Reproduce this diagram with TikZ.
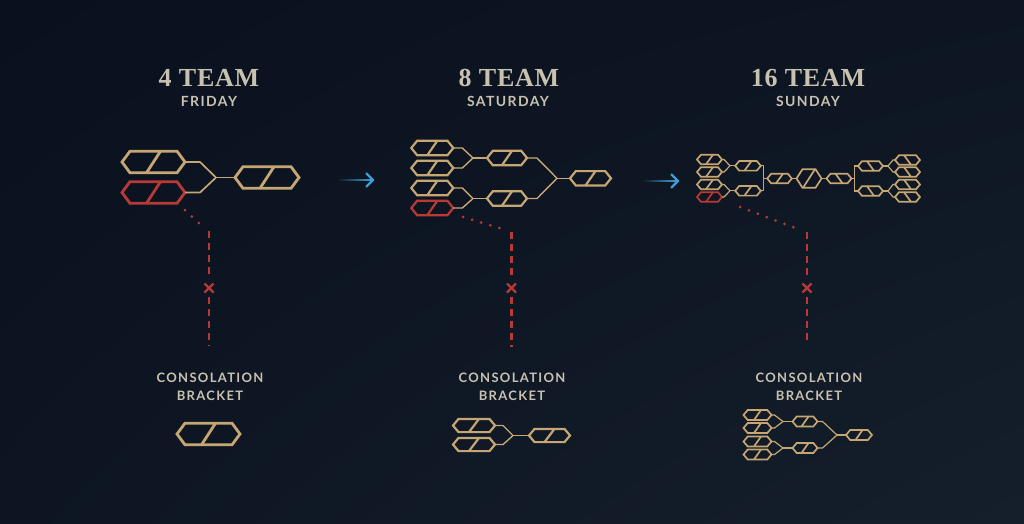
\documentclass[tikz,border=0pt]{standalone}
\usepackage{fontspec}
\setmainfont{Liberation Serif}
\newfontfamily\titlefont[LetterSpace=3]{Liberation Serif}
\newfontfamily\subfont[LetterSpace=10]{Lato}
\usetikzlibrary{calc,fadings,shadings}
\definecolor{bgUL}{HTML}{0A111E}
\definecolor{bgUR}{HTML}{0D1523}
\definecolor{bgLL}{HTML}{0D1522}
\definecolor{bgLR}{HTML}{151F2B}
\definecolor{gold}{HTML}{C6A774}
\definecolor{redc}{HTML}{B93A35}
\definecolor{txt}{HTML}{C8C1B0}
\definecolor{arrowblue}{HTML}{3E9FD8}
\tikzfading[name=tailfade, left color=transparent!100, right color=transparent!0]

\newcommand\hexg[8]{%
  \node[hexcore, minimum width={2*(#4)}, minimum height={2*(#5)}] (#1) at (#2,#3) {};
  \draw[#8] (#1.west) -- ++(#6,{-(#5)}) -- ++({2*(#4)-2*(#6)},0) -- ++(#6,#5) -- ++({-(#6)},#5) -- ++({-2*(#4)+2*(#6)},0) -- cycle;
  \draw[#8] (#1.south) ++({-(#7)},0) -- ++({2*(#7)},{-2*(#5)});
}

\begin{document}
\begin{tikzpicture}[x=1pt,y=-1pt,
  hexcore/.style={inner sep=0pt, outer sep=0pt, draw=none},
  h4/.style={draw=gold, line width=2.8pt, line join=miter},
  h4r/.style={h4, draw=redc},
  h8/.style={draw=gold, line width=2.2pt, line join=miter},
  h8r/.style={h8, draw=redc},
  h16/.style={draw=gold, line width=1.7pt, line join=miter},
  h16r/.style={h16, draw=redc},
  c4/.style={draw=gold, line width=1.7pt},
  c8/.style={draw=gold, line width=1.4pt},
  c16/.style={draw=gold, line width=1.2pt},
  dotl/.style={draw=redc, line width=3pt, line cap=round, dash pattern=on 0pt off 9.5pt},
  dashl/.style={draw=redc, line width=2.3pt, dash pattern=on 7pt off 5pt},
  xm/.style={draw=redc, line width=2.3pt},
  title/.style={anchor=base, text=txt, inner sep=0pt, font=\titlefont\bfseries\fontsize{26}{26}\selectfont},
  sub/.style={anchor=base, text=txt, inner sep=0pt, font=\subfont\bfseries\fontsize{14}{15}\selectfont},
  sub2/.style={anchor=base, text=txt, inner sep=0pt, font=\subfont\bfseries\fontsize{13}{14}\selectfont},
  arr/.style={draw=arrowblue, line width=2.4pt, line cap=round, line join=round}
]
\useasboundingbox (0,0) rectangle (1024,523);
\shade[upper left=bgUL, upper right=bgUR, lower left=bgLL, lower right=bgLR] (0,0) rectangle (1024,523);

% ================= 4 TEAM =================
\node[title] (tt4) at (209,86) {4 TEAM};
\node[sub] (st4) at (209,106.5) {FRIDAY};
\hexg{t4a}{153.5}{162}{31.5}{10.8}{8}{7}{h4}
\hexg{t4b}{153.5}{192.5}{31.5}{10.8}{8}{7}{h4r}
\hexg{t4c}{267}{177.5}{32}{10.8}{8}{7}{h4}
\coordinate (j4) at (216,177.5);
\draw[c4] (t4a.east) -- ++(15,0) -- (j4);
\draw[c4] (t4b.east) -- ++(15,0) -- (j4);
\draw[c4] (j4) -- (t4c.west);
\coordinate (d4a) at (185,210);
\coordinate (d4b) at (203,227);
\draw[dotl] (d4a) -- (d4b);
\coordinate (k4a) at (209,231);
\coordinate (x4) at (209,288);
\coordinate (k4b) at (209,346);
\draw[dashl] (k4a) -- ($(x4)+(0,-9)$);
\draw[dashl] ($(x4)+(0,9)$) -- (k4b);
\draw[xm] ($(x4)+(-4.5,-4.5)$) -- ($(x4)+(4.5,4.5)$);
\draw[xm] ($(x4)+(-4.5,4.5)$) -- ($(x4)+(4.5,-4.5)$);
\node[sub2] (cn4) at (210,382.5) {CONSOLATION};
\node[sub2] (cb4) at (210,400.5) {BRACKET};
\hexg{q4}{208.5}{434}{31.5}{10.8}{8}{7}{h4}

% arrow 1
\coordinate (a1s) at (337,180);
\coordinate (a1e) at (373,180);
\fill[arrowblue, path fading=tailfade] ($(a1s)+(0,-1.2)$) rectangle ($(a1e)+(-2,1.2)$);
\draw[arr] ($(a1e)+(-6.5,-6.5)$) -- (a1e) -- ($(a1e)+(-6.5,6.5)$);

% ================= 8 TEAM =================
\node[title] (tt8) at (509,86) {8 TEAM};
\node[sub] (st8) at (508,106.5) {SATURDAY};
\hexg{e1}{432.3}{148}{21}{7.2}{5.8}{5}{h8}
\hexg{e2}{432.3}{168}{21}{7.2}{5.8}{5}{h8}
\hexg{e3}{432.3}{188}{21}{7.2}{5.8}{5}{h8}
\hexg{e4}{432.3}{208}{21}{7.2}{5.8}{5}{h8r}
\hexg{f1}{507}{158}{20}{7.2}{5.8}{5}{h8}
\hexg{f2}{507}{198.5}{20}{7.2}{5.8}{5}{h8}
\hexg{g8}{590.5}{178.3}{20.5}{7.2}{5.8}{5}{h8}
\coordinate (je1) at (473,158);
\coordinate (je2) at (473,198.5);
\coordinate (jf) at (557,178.3);
\draw[c8] (e1.east) -- ++(9,0) -- (je1);
\draw[c8] (e2.east) -- ++(9,0) -- (je1);
\draw[c8] (e3.east) -- ++(9,0) -- (je2);
\draw[c8] (e4.east) -- ++(9,0) -- (je2);
\draw[c8] (je1) -- (f1.west);
\draw[c8] (je2) -- (f2.west);
\draw[c8] (f1.east) -- ++(10,0) -- (jf);
\draw[c8] (f2.east) -- ++(10,0) -- (jf);
\draw[c8] (jf) -- (g8.west);
\coordinate (d8a) at (463,217);
\coordinate (d8b) at (503,229);
\draw[dotl] (d8a) -- (d8b);
\coordinate (k8a) at (511.5,232);
\coordinate (x8) at (511.5,288);
\coordinate (k8b) at (511.5,347);
\draw[dashl] (k8a) -- ($(x8)+(0,-9)$);
\draw[dashl] ($(x8)+(0,9)$) -- (k8b);
\draw[xm] ($(x8)+(-4.5,-4.5)$) -- ($(x8)+(4.5,4.5)$);
\draw[xm] ($(x8)+(-4.5,4.5)$) -- ($(x8)+(4.5,-4.5)$);
\node[sub2] (cn8) at (512,382.5) {CONSOLATION};
\node[sub2] (cb8) at (512,400.5) {BRACKET};
\hexg{qa1}{474}{425.5}{21}{6.6}{5.5}{5}{h8}
\hexg{qa2}{474}{444.5}{21}{6.6}{5.5}{5}{h8}
\hexg{qb}{549.5}{435.5}{20.5}{6.6}{5.5}{5}{h8}
\coordinate (jq8) at (513,435.5);
\draw[c8] (qa1.east) -- ++(8,0) -- (jq8);
\draw[c8] (qa2.east) -- ++(8,0) -- (jq8);
\draw[c8] (jq8) -- (qb.west);

% arrow 2
\coordinate (a2s) at (642,181);
\coordinate (a2e) at (678,181);
\fill[arrowblue, path fading=tailfade] ($(a2s)+(0,-1.2)$) rectangle ($(a2e)+(-2,1.2)$);
\draw[arr] ($(a2e)+(-6.5,-6.5)$) -- (a2e) -- ($(a2e)+(-6.5,6.5)$);

% ================= 16 TEAM =================
\node[title] (tt16) at (808,86) {16 TEAM};
\node[sub] (st16) at (808,106.5) {SUNDAY};
\hexg{s1}{709.5}{159.5}{12.5}{4.8}{4}{3.5}{h16}
\hexg{s2}{709.5}{172}{12.5}{4.8}{4}{3.5}{h16}
\hexg{s3}{709.5}{184.5}{12.5}{4.8}{4}{3.5}{h16}
\hexg{s4}{709.5}{197}{12.5}{4.8}{4}{3.5}{h16r}
\hexg{s5}{748}{165.8}{12.8}{4.8}{4}{3.5}{h16}
\hexg{s6}{748}{190.8}{12.8}{4.8}{4}{3.5}{h16}
\hexg{s7}{779.5}{178.5}{12.3}{4.8}{4}{3.5}{h16}
\hexg{m}{809}{178.5}{12.5}{9.3}{6}{6}{h16}
\hexg{s8}{839}{178.5}{12.5}{4.8}{4}{-3.5}{h16}
\hexg{s9}{870.5}{166}{12.5}{4.8}{4}{-3.5}{h16}
\hexg{s10}{870.5}{191}{12.5}{4.8}{4}{-3.5}{h16}
\hexg{s11}{907.5}{160}{12.5}{4.8}{4}{-3.5}{h16}
\hexg{s12}{907.5}{172}{12.5}{4.8}{4}{-3.5}{h16}
\hexg{s13}{907.5}{184.5}{12.5}{4.8}{4}{-3.5}{h16}
\hexg{s14}{907.5}{197}{12.5}{4.8}{4}{-3.5}{h16}
\coordinate (js1) at (730,165.8);
\coordinate (js2) at (730,190.8);
\coordinate (v1) at (763.5,178.5);
\coordinate (v2) at (854.8,178.5);
\coordinate (jr1) at (888,166);
\coordinate (jr2) at (888,191);
\draw[c16] (s1.east) -- ++(2,0) -- (js1);
\draw[c16] (s2.east) -- ++(2,0) -- (js1);
\draw[c16] (s3.east) -- ++(2,0) -- (js2);
\draw[c16] (s4.east) -- ++(2,0) -- (js2);
\draw[c16] (js1) -- (s5.west);
\draw[c16] (js2) -- (s6.west);
\draw[c16] (s5.east) -| (v1) |- (s6.east);
\draw[c16] (v1) -- (s7.west);
\draw[c16] (s7.east) -- (m.west);
\draw[c16] (m.east) -- (s8.west);
\draw[c16] (s9.west) -| (v2) |- (s10.west);
\draw[c16] (v2) -- (s8.east);
\draw[c16] (s11.west) -- ++(-2,0) -- (jr1);
\draw[c16] (s12.west) -- ++(-2,0) -- (jr1);
\draw[c16] (s13.west) -- ++(-2,0) -- (jr2);
\draw[c16] (s14.west) -- ++(-2,0) -- (jr2);
\draw[c16] (jr1) -- (s9.east);
\draw[c16] (jr2) -- (s10.east);
\coordinate (d16a) at (740,207);
\coordinate (d16b) at (798,229);
\draw[dotl] (d16a) -- (d16b);
\coordinate (k16a) at (807,232);
\coordinate (x16) at (807,288);
\coordinate (k16b) at (807,345);
\draw[dashl] (k16a) -- ($(x16)+(0,-9)$);
\draw[dashl] ($(x16)+(0,9)$) -- (k16b);
\draw[xm] ($(x16)+(-4.5,-4.5)$) -- ($(x16)+(4.5,4.5)$);
\draw[xm] ($(x16)+(-4.5,4.5)$) -- ($(x16)+(4.5,-4.5)$);
\node[sub2] (cn16) at (809,382.5) {CONSOLATION};
\node[sub2] (cb16) at (809,400.5) {BRACKET};
\hexg{r1}{757.5}{415}{14}{5}{4.2}{3.5}{h16}
\hexg{r2}{757.5}{428}{14}{5}{4.2}{3.5}{h16}
\hexg{r3}{757.5}{441.5}{14}{5}{4.2}{3.5}{h16}
\hexg{r4}{757.5}{454.5}{14}{5}{4.2}{3.5}{h16}
\hexg{r5}{805}{421.5}{12.5}{5}{4.2}{3.5}{h16}
\hexg{r6}{805}{448}{12.5}{5}{4.2}{3.5}{h16}
\hexg{r7}{859}{435}{13}{5}{4.2}{3.5}{h16}
\coordinate (jc1) at (783,421.5);
\coordinate (jc2) at (783,448);
\coordinate (jc3) at (837,435);
\draw[c16] (r1.east) -- ++(3,0) -- (jc1);
\draw[c16] (r2.east) -- ++(3,0) -- (jc1);
\draw[c16] (r3.east) -- ++(3,0) -- (jc2);
\draw[c16] (r4.east) -- ++(3,0) -- (jc2);
\draw[c16] (jc1) -- (r5.west);
\draw[c16] (jc2) -- (r6.west);
\draw[c16] (r5.east) -- ++(5,0) -- (jc3);
\draw[c16] (r6.east) -- ++(5,0) -- (jc3);
\draw[c16] (jc3) -- (r7.west);
\end{tikzpicture}
\end{document}
